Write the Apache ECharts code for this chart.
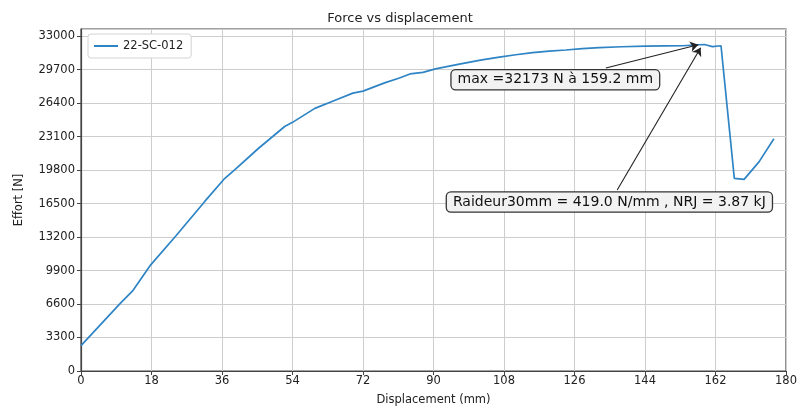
<!DOCTYPE html>
<html>
<head>
<meta charset="utf-8">
<script src="https://cdn.jsdelivr.net/npm/echarts@6/dist/echarts.min.js"></script>
<style>
  html, body { margin: 0; padding: 0; background: #fff; }
  #chart { width: 800px; height: 411px; }
</style>
</head>
<body>
<div id="chart"></div>
<script>
  // deplacement (mm) / effort (N)
  var displacement = [0, 9.9, 13.3, 17.8, 24.2, 31.6, 36.5, 39.3, 45.2, 52, 54, 59.7, 65.2, 69.4, 72, 77.5,
    81.3, 84, 87.3, 90.5, 96.6, 102, 106.8, 111, 115.3, 119.5, 123.8, 128, 132.3, 138, 144.2, 149, 153.6,
    157.8, 159.2, 161.2, 163.4, 166.8, 169.3, 173.1, 176.9];
  var effort = [2500, 6620, 7950, 10460, 13300, 16710, 18900, 19850, 21900, 24090, 24500, 25880, 26730, 27380, 27580, 28390,
    28870, 29270, 29430, 29770, 30240, 30640, 30920, 31160, 31370, 31520, 31630, 31760, 31860, 31950, 32020, 32040, 32050,
    32150, 32173, 31960, 32050, 18980, 18880, 20610, 22880];
  var xTicks = [0, 18, 36, 54, 72, 90, 108, 126, 144, 162, 180];
  var yTicks = [0, 3300, 6600, 9900, 13200, 16500, 19800, 23100, 26400, 29700, 33000];

  var maxText = 'max =32173 N à 159.2 mm';
  var raideurText = 'Raideur30mm = 419.0 N/mm , NRJ = 3.87 kJ';

  var seriesData = [];
  for (var i = 0; i < displacement.length; i++) {
    seriesData.push([displacement[i], effort[i]]);
  }

  var font = 'DejaVu Sans';
  var boxLabel = {
    show: true,
    position: 'inside',
    fontFamily: font,
    fontSize: 14,
    color: '#111',
    backgroundColor: '#f2f2f2',
    borderColor: '#333',
    borderWidth: 1.3,
    borderRadius: 4,
    padding: [3, 6, 2, 6]
  };

  var option = {
    animation: false,
    backgroundColor: '#fff',
    title: {
      text: 'Force vs displacement',
      left: 'center',
      top: 7,
      textStyle: { fontFamily: font, fontSize: 13, fontWeight: 'normal', color: '#222' }
    },
    legend: {
      left: 88,
      top: 34,
      padding: [6, 8, 6, 6],
      itemWidth: 24,
      itemHeight: 2,
      itemGap: 8,
      icon: 'rect',
      backgroundColor: '#fff',
      borderColor: '#d4d4d4',
      borderWidth: 1,
      borderRadius: 3,
      textStyle: { fontFamily: font, fontSize: 11.5, color: '#222' },
      data: ['22-SC-012']
    },
    grid: {
      left: 81, right: 13, top: 29, bottom: 36,
      show: true,
      borderColor: '#444',
      borderWidth: 1.2
    },
    xAxis: {
      type: 'value',
      min: xTicks[0],
      max: xTicks[xTicks.length - 1],
      interval: 18,
      name: 'Displacement (mm)',
      nameLocation: 'middle',
      nameGap: 23,
      nameTextStyle: { fontFamily: font, fontSize: 11.5, color: '#222' },
      axisLine: { show: true, lineStyle: { color: '#444', width: 1.2 } },
      axisTick: { show: true, length: 4, lineStyle: { color: '#444' } },
      axisLabel: { fontFamily: font, fontSize: 11.5, color: '#222', margin: 4 },
      splitLine: { show: true, lineStyle: { color: '#cdcdcd', width: 1 } }
    },
    yAxis: {
      type: 'value',
      min: yTicks[0],
      max: 33700,
      interval: 3300,
      name: 'Effort [N]',
      nameLocation: 'middle',
      nameGap: 56,
      nameTextStyle: { fontFamily: font, fontSize: 11.5, color: '#222' },
      axisLine: { show: true, lineStyle: { color: '#444', width: 1.2 } },
      axisTick: { show: true, length: 4, lineStyle: { color: '#444' } },
      axisLabel: {
        fontFamily: font, fontSize: 11.5, color: '#222', margin: 6,
        showMaxLabel: false,
        formatter: function (v) { return yTicks.indexOf(v) >= 0 ? String(v) : ''; }
      },
      splitLine: { show: true, lineStyle: { color: '#cdcdcd', width: 1 } }
    },
    series: [{
      name: '22-SC-012',
      type: 'line',
      data: seriesData,
      showSymbol: false,
      symbol: 'none',
      color: '#2e84c4',
      lineStyle: { color: '#2e84c4', width: 1.7 },
      emphasis: { disabled: true },
      markLine: {
        silent: true,
        symbol: ['none', 'arrow'],
        symbolSize: 8,
        label: { show: false },
        itemStyle: { color: '#222' },
        lineStyle: { color: '#222', width: 1.1, type: 'solid' },
        data: [
          [{ coord: [134.0, 29855] }, { coord: [157.6, 32150] }],
          [{ coord: [136.9, 17840] }, { coord: [158.2, 31860] }]
        ]
      },
      markPoint: {
        silent: true,
        symbol: 'rect',
        symbolSize: 1,
        itemStyle: { color: 'rgba(0,0,0,0)' },
        data: [
          { coord: [121.1, 28700], label: Object.assign({ formatter: maxText }, boxLabel) },
          { coord: [134.9, 16650], label: Object.assign({ formatter: raideurText }, boxLabel) }
        ]
      }
    }]
  };

  var myChart = echarts.init(document.getElementById('chart'));
  myChart.setOption(option);
</script>
</body>
</html>
